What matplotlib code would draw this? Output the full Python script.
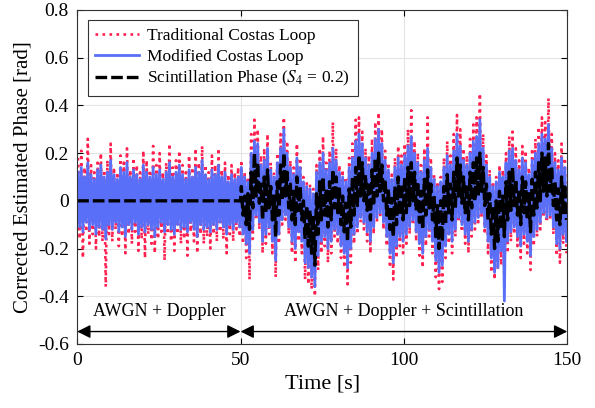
import matplotlib
matplotlib.use('Agg')
import matplotlib.pyplot as plt
import numpy as np

plt.rcParams['font.family'] = ['Liberation Serif', 'DejaVu Serif']
plt.rcParams['mathtext.fontset'] = 'stix'

# per-second envelopes (t = 0..149 s)
trad_hi = [0.18, 0.21, 0.14, 0.26, 0.15, 0.12, 0.16, 0.20, 0.13, 0.17,
           0.24, 0.14, 0.12, 0.19, 0.16, 0.22, 0.13, 0.18, 0.15, 0.12,
           0.21, 0.17, 0.13, 0.23, 0.15, 0.20, 0.12, 0.16, 0.24, 0.14,
           0.17, 0.21, 0.15, 0.12, 0.19, 0.14, 0.22, 0.16, 0.23, 0.15,
           0.12, 0.19, 0.15, 0.22, 0.13, 0.16, 0.11, 0.15, 0.12, 0.14,
           0.17, 0.12, 0.10, 0.28, 0.34, 0.30, 0.19, 0.22, 0.28, 0.16,
           0.12, 0.20, 0.28, 0.35, 0.25, 0.17, 0.14, 0.24, 0.18, 0.10,
           0.08, 0.07, 0.05, 0.15, 0.22, 0.27, 0.16, 0.21, 0.33, 0.22,
           0.15, 0.13, 0.10, 0.18, 0.24, 0.34, 0.35, 0.29, 0.22, 0.19,
           0.26, 0.33, 0.37, 0.30, 0.21, 0.16, 0.11, 0.18, 0.23, 0.19,
           0.24, 0.30, 0.38, 0.25, 0.20, 0.15, 0.22, 0.35, 0.18, 0.11,
           0.08, 0.10, 0.18, 0.25, 0.19, 0.28, 0.36, 0.30, 0.22, 0.19,
           0.26, 0.32, 0.35, 0.45, 0.28, 0.19, 0.13, 0.08, 0.10, 0.15,
           0.13, 0.20, 0.27, 0.29, 0.22, 0.17, 0.23, 0.21, 0.14, 0.22,
           0.26, 0.31, 0.35, 0.33, 0.43, 0.28, 0.20, 0.17, 0.24, 0.18]
trad_lo = [-0.16, -0.24, -0.13, -0.18, -0.14, -0.20, -0.15, -0.17, -0.36, -0.14,
           -0.17, -0.12, -0.19, -0.15, -0.22, -0.14, -0.18, -0.13, -0.21, -0.16,
           -0.24, -0.14, -0.18, -0.22, -0.16, -0.13, -0.25, -0.14, -0.17, -0.21,
           -0.14, -0.18, -0.16, -0.23, -0.13, -0.17, -0.22, -0.14, -0.18, -0.15,
           -0.20, -0.14, -0.17, -0.13, -0.16, -0.22, -0.14, -0.17, -0.12, -0.15,
           -0.18, -0.24, -0.33, -0.16, -0.08, -0.12, -0.22, -0.18, -0.14, -0.22,
           -0.32, -0.18, -0.10, -0.08, -0.14, -0.22, -0.26, -0.17, -0.22, -0.33,
           -0.35, -0.37, -0.40, -0.29, -0.22, -0.19, -0.26, -0.22, -0.15, -0.18,
           -0.24, -0.28, -0.35, -0.26, -0.18, -0.14, -0.09, -0.12, -0.17, -0.22,
           -0.14, -0.09, -0.06, -0.12, -0.19, -0.28, -0.33, -0.24, -0.19, -0.22,
           -0.18, -0.14, -0.10, -0.17, -0.23, -0.28, -0.19, -0.15, -0.22, -0.32,
           -0.37, -0.34, -0.24, -0.18, -0.22, -0.15, -0.09, -0.13, -0.18, -0.22,
           -0.15, -0.12, -0.09, -0.07, -0.14, -0.22, -0.30, -0.33, -0.29, -0.27,
           -0.36, -0.22, -0.17, -0.14, -0.19, -0.24, -0.18, -0.22, -0.29, -0.19,
           -0.15, -0.12, -0.07, -0.09, -0.08, -0.14, -0.23, -0.26, -0.18, -0.22]

mod_hi = [0.12, 0.14, 0.10, 0.16, 0.11, 0.09, 0.13, 0.15, 0.10, 0.12,
          0.17, 0.11, 0.09, 0.14, 0.12, 0.16, 0.10, 0.13, 0.11, 0.09,
          0.15, 0.12, 0.10, 0.14, 0.11, 0.13, 0.09, 0.12, 0.16, 0.10,
          0.12, 0.15, 0.11, 0.09, 0.13, 0.10, 0.14, 0.12, 0.17, 0.11,
          0.09, 0.13, 0.11, 0.15, 0.10, 0.12, 0.08, 0.11, 0.09, 0.10,
          0.14, 0.10, 0.08, 0.20, 0.25, 0.24, 0.15, 0.17, 0.22, 0.13,
          0.10, 0.16, 0.22, 0.30, 0.20, 0.14, 0.11, 0.18, 0.14, 0.08,
          0.06, 0.05, 0.03, 0.12, 0.16, 0.20, 0.13, 0.16, 0.22, 0.17,
          0.12, 0.10, 0.08, 0.14, 0.18, 0.25, 0.28, 0.24, 0.18, 0.15,
          0.20, 0.26, 0.30, 0.24, 0.17, 0.13, 0.09, 0.14, 0.18, 0.15,
          0.19, 0.23, 0.27, 0.20, 0.16, 0.12, 0.17, 0.22, 0.14, 0.09,
          0.06, 0.08, 0.14, 0.19, 0.15, 0.21, 0.28, 0.23, 0.17, 0.15,
          0.20, 0.25, 0.27, 0.34, 0.22, 0.15, 0.10, 0.06, 0.08, 0.12,
          0.10, 0.16, 0.21, 0.22, 0.17, 0.13, 0.18, 0.16, 0.11, 0.17,
          0.20, 0.24, 0.28, 0.26, 0.32, 0.22, 0.16, 0.13, 0.18, 0.14]
mod_lo = [-0.11, -0.13, -0.09, -0.12, -0.10, -0.14, -0.11, -0.12, -0.16, -0.10,
          -0.12, -0.09, -0.13, -0.11, -0.15, -0.10, -0.12, -0.09, -0.14, -0.11,
          -0.13, -0.10, -0.12, -0.15, -0.11, -0.09, -0.13, -0.10, -0.12, -0.14,
          -0.10, -0.12, -0.11, -0.13, -0.09, -0.12, -0.15, -0.10, -0.12, -0.11,
          -0.13, -0.10, -0.12, -0.09, -0.11, -0.14, -0.10, -0.12, -0.09, -0.11,
          -0.14, -0.18, -0.22, -0.12, -0.06, -0.09, -0.17, -0.14, -0.11, -0.17,
          -0.25, -0.14, -0.08, -0.06, -0.11, -0.17, -0.20, -0.13, -0.17, -0.26,
          -0.28, -0.32, -0.36, -0.23, -0.17, -0.15, -0.20, -0.17, -0.12, -0.14,
          -0.19, -0.22, -0.28, -0.20, -0.14, -0.11, -0.07, -0.09, -0.13, -0.17,
          -0.11, -0.07, -0.05, -0.09, -0.15, -0.22, -0.26, -0.19, -0.15, -0.17,
          -0.14, -0.11, -0.08, -0.13, -0.18, -0.22, -0.15, -0.12, -0.17, -0.25,
          -0.30, -0.27, -0.19, -0.14, -0.17, -0.12, -0.07, -0.10, -0.14, -0.17,
          -0.12, -0.09, -0.07, -0.05, -0.11, -0.17, -0.24, -0.30, -0.28, -0.21,
          -0.42, -0.17, -0.13, -0.11, -0.15, -0.19, -0.14, -0.17, -0.23, -0.15,
          -0.12, -0.09, -0.05, -0.07, -0.06, -0.11, -0.18, -0.20, -0.14, -0.17]

# scintillation phase is zero for the first 50 s, these cover t = 50..149 s
scint_hi = [0.06, 0.02, 0.03, 0.12, 0.20, 0.16, 0.07, 0.10, 0.13, 0.06,
            0.02, 0.08, 0.15, 0.20, 0.12, 0.07, 0.04, 0.10, 0.06, 0.00,
            -0.02, -0.04, -0.06, 0.03, 0.08, 0.10, 0.05, 0.08, 0.13, 0.10,
            0.05, 0.02, -0.01, 0.05, 0.10, 0.14, 0.19, 0.16, 0.11, 0.08,
            0.13, 0.18, 0.20, 0.15, 0.09, 0.05, 0.01, 0.06, 0.10, 0.07,
            0.10, 0.14, 0.16, 0.12, 0.08, 0.04, 0.09, 0.13, 0.07, 0.02,
            -0.02, 0.00, 0.06, 0.11, 0.07, 0.12, 0.18, 0.15, 0.10, 0.07,
            0.12, 0.16, 0.18, 0.20, 0.14, 0.07, 0.03, -0.02, 0.00, 0.04,
            0.02, 0.08, 0.12, 0.14, 0.09, 0.05, 0.10, 0.08, 0.03, 0.09,
            0.12, 0.16, 0.20, 0.18, 0.24, 0.14, 0.08, 0.05, 0.10, 0.07]
scint_lo = [-0.06, -0.10, -0.12, -0.03, 0.02, -0.01, -0.08, -0.05, -0.03, -0.08,
            -0.15, -0.06, 0.00, 0.02, -0.03, -0.08, -0.10, -0.04, -0.08, -0.16,
            -0.19, -0.22, -0.27, -0.14, -0.08, -0.06, -0.11, -0.08, -0.03, -0.05,
            -0.10, -0.13, -0.17, -0.11, -0.06, -0.02, 0.02, 0.00, -0.04, -0.08,
            -0.02, 0.02, 0.04, 0.00, -0.06, -0.12, -0.15, -0.10, -0.06, -0.08,
            -0.05, -0.02, 0.00, -0.04, -0.09, -0.12, -0.06, -0.03, -0.08, -0.15,
            -0.20, -0.17, -0.10, -0.05, -0.08, -0.03, 0.02, -0.01, -0.05, -0.08,
            -0.03, 0.00, 0.02, 0.04, -0.02, -0.08, -0.14, -0.20, -0.17, -0.12,
            -0.15, -0.08, -0.04, -0.02, -0.06, -0.10, -0.05, -0.08, -0.13, -0.06,
            -0.03, 0.00, 0.04, 0.02, 0.04, -0.02, -0.08, -0.10, -0.05, -0.08]


def zigzag(t0, hi, lo):
    # interleave upper and lower envelope: hi at t+0.25, lo at t+0.75
    n = len(hi)
    t = np.empty(2 * n)
    y = np.empty(2 * n)
    t[0::2] = t0 + np.arange(n) + 0.25
    t[1::2] = t0 + np.arange(n) + 0.75
    y[0::2] = hi
    y[1::2] = lo
    return t, y


t_tr, y_tr = zigzag(0, trad_hi, trad_lo)
t_md, y_md = zigzag(0, mod_hi, mod_lo)
t_sc, y_sc = zigzag(50, scint_hi, scint_lo)
t_sc = np.concatenate([[0, 50], t_sc])
y_sc = np.concatenate([[0, 0], y_sc])

fig = plt.figure(figsize=(5.95, 4.08), dpi=100)
ax = fig.add_axes([0.1297, 0.157, 0.8237, 0.8185])

ax.plot(t_tr, y_tr, ':', color='#ff2050', lw=1.9, label='Traditional Costas Loop')
ax.plot(t_md, y_md, '-', color='#5a6ff8', lw=2.0, label='Modified Costas Loop')
ax.plot(t_sc, y_sc, color='black', lw=2.4, dashes=(3.5, 1.2),
        label='Scintillation Phase ($S_4$ = 0.2)')

ax.set_xlim(0, 150)
ax.set_ylim(-0.6, 0.8)
ax.set_xticks([0, 50, 100, 150])
ax.set_yticks(np.arange(-0.6, 0.81, 0.2))
ax.set_yticklabels(['-0.6', '-0.4', '-0.2', '0', '0.2', '0.4', '0.6', '0.8'])
ax.tick_params(direction='in', top=True, right=True, labelsize=14, length=4, pad=6)
ax.grid(True, color='#e4e4e4', lw=0.8)
ax.set_axisbelow(True)
for s in ax.spines.values():
    s.set_color('#333333')
    s.set_linewidth(0.8)

ax.set_xlabel('Time [s]', fontsize=16, labelpad=4)
ax.set_ylabel('Corrected Estimated Phase [rad]', fontsize=15, labelpad=4)

leg = ax.legend(loc='upper left', fontsize=12.5, handlelength=2.5, handletextpad=0.5,
                borderaxespad=0.6, fancybox=False, framealpha=1, labelspacing=0.25,
                borderpad=0.45)
leg.get_frame().set_edgecolor('#333333')
leg.get_frame().set_linewidth(0.8)

# region markers
arr = dict(arrowstyle='<|-|>', color='black', lw=1.0, mutation_scale=20,
           shrinkA=0, shrinkB=0)
ax.annotate('', xy=(0, -0.548), xytext=(50, -0.548), arrowprops=arr)
ax.annotate('', xy=(50, -0.548), xytext=(150, -0.548), arrowprops=arr)
ax.text(25, -0.464, 'AWGN + Doppler', ha='center', va='center', fontsize=13)
ax.text(100, -0.464, 'AWGN + Doppler + Scintillation', ha='center', va='center', fontsize=13)

fig.savefig('out.png', dpi=100)
